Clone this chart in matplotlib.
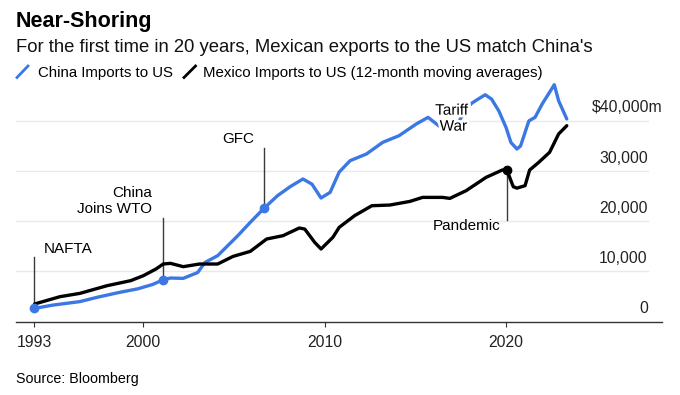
import matplotlib
matplotlib.use("Agg")
import matplotlib.pyplot as plt
import matplotlib.patheffects as pe
from matplotlib.lines import Line2D

plt.rcParams['font.family'] = ['Liberation Sans', 'DejaVu Sans']

# 12-month moving averages, $m
china_t = [1994.0, 1995.0, 1996.5, 1997.5, 1998.7, 1999.7, 2000.5, 2001.1, 2001.5,
           2002.2, 2003.0, 2003.4, 2004.1, 2005.2, 2005.9, 2006.65, 2007.4, 2008.1,
           2008.8, 2009.3, 2009.8, 2010.3, 2010.8, 2011.4, 2012.3, 2013.2, 2014.1,
           2015.05, 2015.7, 2016.3, 2017.0, 2017.4, 2017.8, 2018.1, 2018.4, 2018.85,
           2019.2, 2019.6, 2020.0, 2020.27, 2020.6, 2020.8, 2021.26, 2021.6, 2022.0,
           2022.4, 2022.66, 2022.9, 2023.35]
china = [2650, 3300, 4000, 4900, 5850, 6550, 7400, 8350, 8700,
         8630, 9800, 11800, 13150, 17100, 19800, 22570, 25100, 26900,
         28420, 27400, 24640, 25760, 29800, 32070, 33400, 35720, 37050,
         39380, 40700, 39000, 39300, 39900, 42300, 43500, 44200, 45200,
         44350, 42000, 38700, 35700, 34400, 35000, 40000, 40700, 43400,
         45700, 47200, 44000, 40380]

mexico_t = [1994.0, 1995.4, 1996.5, 1998.0, 1999.3, 2000.0, 2000.7, 2001.1, 2001.5,
            2002.2, 2003.1, 2004.1, 2004.95, 2005.9, 2006.8, 2007.7, 2008.6, 2008.9,
            2009.45, 2009.8, 2010.45, 2010.8, 2011.65, 2012.6, 2013.6, 2014.7, 2015.4,
            2016.5, 2016.9, 2017.8, 2018.9, 2019.8, 2020.05, 2020.27, 2020.4, 2020.6,
            2021.05, 2021.3, 2021.8, 2022.4, 2022.9, 2023.35]
mexico = [3520, 4980, 5640, 7170, 8170, 9160, 10500, 11490, 11620,
          10960, 11490, 11490, 13010, 14010, 16470, 17130, 18660, 18460,
          15800, 14480, 16800, 18790, 21120, 23100, 23240, 23960, 24760,
          24760, 24560, 26100, 28750, 30220, 30220, 28090, 26890, 26600,
          27100, 30200, 31730, 33730, 37390, 39040]

yticks = [0, 10000, 20000, 30000]
ytick_labels = ['0', '10,000', '20,000', '30,000']
ytop = 40000
ytop_label = '$40,000m'
xticks = [1994.0, 2000, 2010, 2020]
xtick_labels = ['1993', '2000', '2010', '2020']

blue = '#3b78e3'
grid_c = '#e9e9e9'
note_c = '#3a3a3a'

fig = plt.figure(figsize=(6.8, 3.95), dpi=100)
ax = fig.add_axes([16 / 680, 73.3 / 395, 646 / 680, 243.5 / 395])
ax.set_xlim(1992.98, 2028.6)
ax.set_ylim(0, 48500)

for s in ['top', 'right', 'left']:
    ax.spines[s].set_visible(False)
ax.spines['bottom'].set_color('#333333')
ax.spines['bottom'].set_linewidth(1.0)

grid_end = 0.978
for v in yticks[1:] + [ytop]:
    ax.axhline(v, xmin=0, xmax=grid_end, color=grid_c, lw=1.0, zorder=0)
for v, lab in zip(yticks, ytick_labels):
    ax.annotate(lab, xy=(grid_end, v), xycoords=('axes fraction', 'data'),
                xytext=(0, 4), textcoords='offset points', ha='right', va='bottom',
                fontsize=11.3, color='#222222')
ax.annotate(ytop_label, xy=(1.0015, ytop), xycoords=('axes fraction', 'data'),
            xytext=(0, 4), textcoords='offset points', ha='right', va='bottom',
            fontsize=11.3, color='#222222')

ax.set_yticks([])
ax.set_xticks(xticks)
ax.set_xticklabels(xtick_labels)
ax.tick_params(axis='x', direction='out', length=3.6, width=0.8, color='#333333',
               pad=6, labelsize=11.3, labelcolor='#222222')

ax.plot(china_t, china, color=blue, lw=2.4, solid_capstyle='round',
        solid_joinstyle='round', zorder=3)
ax.plot(mexico_t, mexico, color='black', lw=2.4, solid_capstyle='round',
        solid_joinstyle='round', zorder=3)

# event markers
ax.plot([china_t[0], china_t[7], china_t[15]], [china[0], china[7], china[15]],
        'o', color=blue, ms=6, zorder=4)
ax.plot([mexico_t[32]], [mexico[32]], 'o', color='black', ms=6, zorder=4)

fs = 11
ax.plot([1994.0, 1994.0], [china[0], 12900], color=note_c, lw=1, zorder=2)
ax.text(1994.52, 14480, 'NAFTA', ha='left', va='center', fontsize=fs)

ax.plot([2001.1, 2001.1], [china[7], 20660], color=note_c, lw=1, zorder=2)
ax.text(2000.48, 25640, 'China', ha='right', va='center', fontsize=fs)
ax.text(2000.48, 22450, 'Joins WTO', ha='right', va='center', fontsize=fs)

ax.plot([2006.65, 2006.65], [china[15], 34600], color=note_c, lw=1, zorder=2)
ax.text(2005.24, 36400, 'GFC', ha='center', va='center', fontsize=fs)

halo = [pe.withStroke(linewidth=4, foreground='white')]
ax.text(2017.92, 42030, 'Tariff', ha='right', va='center', fontsize=fs,
        zorder=5, path_effects=halo)
ax.text(2017.85, 38850, 'War', ha='right', va='center', fontsize=fs,
        zorder=5, path_effects=halo)

ax.plot([2020.05, 2020.05], [mexico[32], 20260], color=note_c, lw=1, zorder=2)
ax.text(2019.67, 19120, 'Pandemic', ha='right', va='center', fontsize=fs)

# header
def fy(px):
    return 1 - px / 395

fig.text(16 / 680, fy(26.7), 'Near-Shoring', fontsize=15.5, fontweight='bold',
         va='baseline', ha='left')
fig.text(16 / 680, fy(51.7), "For the first time in 20 years, Mexican exports to the US match China's",
         fontsize=13.3, va='baseline', ha='left', color='#111111')

fig.add_artist(Line2D([17 / 680, 28 / 680], [fy(77.5), fy(66)], color=blue, lw=2))
fig.text(37.7 / 680, fy(77), 'China Imports to US', fontsize=10.8, va='baseline')
fig.add_artist(Line2D([184 / 680, 195.5 / 680], [fy(77.5), fy(66)], color='black', lw=2))
fig.text(203 / 680, fy(77), 'Mexico Imports to US (12-month moving averages)',
         fontsize=10.8, va='baseline')

fig.text(16 / 680, fy(382.7), 'Source: Bloomberg', fontsize=10.3, va='baseline')

fig.savefig('out.png', dpi=100)
